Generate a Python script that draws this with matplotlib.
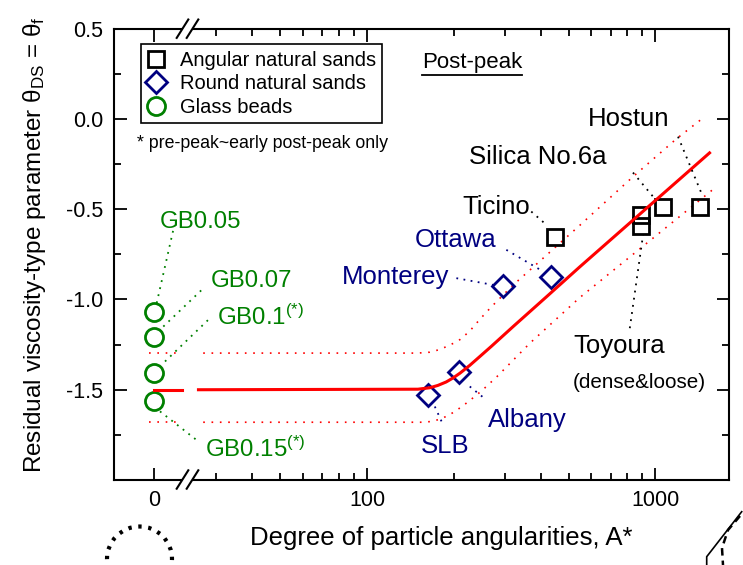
import matplotlib
matplotlib.use('Agg')
import matplotlib.pyplot as plt
from matplotlib.lines import Line2D
from matplotlib.patches import Ellipse, Polygon

plt.rcParams['font.family'] = ['Liberation Sans', 'DejaVu Sans']
plt.rcParams['mathtext.fontset'] = 'custom'
plt.rcParams['mathtext.rm'] = 'Liberation Sans'
plt.rcParams['mathtext.it'] = 'Liberation Sans:italic'
plt.rcParams['axes.unicode_minus'] = False

# ---- data ----
# glass beads sit at A* = 0 (left, linear part of the broken axis)
gb_x = [0, 0, 0, 0]
gb_y = [-1.07, -1.21, -1.41, -1.565]

round_names = ['SLB', 'Albany', 'Monterey', 'Ottawa']
round_x = [163, 208, 296, 434]
round_y = [-1.53, -1.40, -0.925, -0.875]

ang_x = [450, 894, 894, 1063, 1432]
ang_y = [-0.655, -0.53, -0.595, -0.49, -0.49]

# fitted curve and the dotted band (log part)
fit_x = [26, 150, 165, 176, 188, 199, 210, 227, 246, 270, 321, 419, 546, 1541]
fit_y = [-1.50, -1.497, -1.489, -1.476, -1.457, -1.434, -1.408, -1.365, -1.316, -1.259,
         -1.150, -0.985, -0.820, -0.188]
up_x = [27, 150, 165, 176, 188, 199, 210, 227, 246, 270, 321, 546, 836, 1183, 1483]
up_y = [-1.297, -1.297, -1.292, -1.280, -1.262, -1.243, -1.222, -1.175, -1.11, -1.04,
        -0.92, -0.59, -0.32, -0.11, 0.013]
low_x = [27, 155, 167, 180, 193, 206, 221, 236, 252, 281, 367, 546, 882, 1628]
low_y = [-1.68, -1.68, -1.676, -1.662, -1.639, -1.610, -1.574, -1.538, -1.50, -1.43,
         -1.242, -0.99, -0.72, -0.375]
# same levels continued in the A* = 0 segment
flat_fit, flat_up, flat_low = -1.5, -1.297, -1.68

GREEN = '#008000'
NAVY = '#000080'
RED = '#ff0000'

W, H = 743, 565


def fx(px):
    return px / W


def fy(py):
    return 1 - py / H


fig = plt.figure(figsize=(W / 100, H / 100), dpi=100)
bot, top = fy(480), fy(28.7)
axL = fig.add_axes([fx(114), bot, fx(190) - fx(114), top - bot])
axR = fig.add_axes([fx(190), bot, fx(729) - fx(190), top - bot])

for ax in (axL, axR):
    ax.patch.set_visible(False)
    ax.set_ylim(-2.0, 0.5)
    for s in ax.spines.values():
        s.set_linewidth(1.5)
    ax.set_yticks([-1.5, -1.0, -0.5, 0.0, 0.5])
    ax.set_yticks([-1.75, -1.25, -0.75, -0.25, 0.25], minor=True)
    ax.tick_params(which='both', direction='in', width=1.3, labelsize=15.5,
                   top=True, bottom=True)
    ax.tick_params(which='major', length=9)
    ax.tick_params(which='minor', length=5)

axL.set_xlim(-1, 0.9)
axL.spines['right'].set_visible(False)
axL.set_xticks([0], ['0'])
axL.tick_params(axis='y', which='both', left=True, right=False, pad=8)
axL.tick_params(axis='x', pad=7.5)
axL.set_yticklabels(['-1.5', '-1.0', '-0.5', '0.0', '0.5'])

axR.set_xscale('log')
axR.set_xlim(24.3, 1800)
axR.spines['left'].set_visible(False)
axR.set_xticks([100, 1000], ['100', '1000'])
axR.set_xticks([30, 40, 50, 60, 70, 80, 90, 200, 300, 400, 500, 600, 700, 800, 900],
               minor=True)
axR.xaxis.set_minor_formatter(plt.NullFormatter())
axR.tick_params(axis='y', which='both', left=False, right=True, labelleft=False)
axR.tick_params(axis='x', pad=7.5)

# left segment
axL.plot([-0.12, 0.65], [flat_up, flat_up], color=RED, lw=1.2, ls=(0, (1, 4)))
axL.plot([-0.12, 0.65], [flat_low, flat_low], color=RED, lw=1.2, ls=(0, (1, 4)))
axL.plot(gb_x, gb_y, ls='none', marker='o', ms=13, mfc='none', mec=GREEN, mew=2)
axL.plot([0, 0.7], [flat_fit, flat_fit], color=RED, lw=2.2)

# right segment
axR.plot(up_x, up_y, color=RED, lw=1.2, ls=(0, (1, 4)))
axR.plot(low_x, low_y, color=RED, lw=1.2, ls=(0, (1, 4)))
axR.plot(round_x, round_y, ls='none', marker='D', ms=11.5, mfc='none', mec=NAVY, mew=2)
axR.plot(ang_x, ang_y, ls='none', marker='s', ms=11.3, mfc='none', mec='black', mew=2)
axR.plot(fit_x, fit_y, color=RED, lw=2.2)

# ---- labels and leader lines ----
lead = dict(lw=1.3, ls=(0, (1, 3)), clip_on=False)

# glass beads (left axes coordinates)
gb_labels = [('GB0.05', 0.15, -0.57), ('GB0.07', 1.4175, -0.897),
             ('GB0.1$^{\\mathregular{(*)}}$', 1.5675, -1.10),
             ('GB0.15$^{\\mathregular{(*)}}$', 1.275, -1.832)]
for txt, tx, ty in gb_labels:
    axL.text(tx, ty, txt, color=GREEN, fontsize=17.3, ha='left', va='center',
             clip_on=False)
axL.plot([0.0675, 0.4825], [-1.02, -0.614], color=GREEN, **lead)
axL.plot([0.2325, 1.1925], [-1.15, -0.947], color=GREEN, **lead)
axL.plot([0.275, 1.3575], [-1.3435, -1.1125], color=GREEN, **lead)
axL.plot([0.15, 1.1075], [-1.62, -1.786], color=GREEN, **lead)

# round sands
for txt, tx, ty in [('SLB', 186, -1.814), ('Albany', 359, -1.666),
                    ('Monterey', 126, -0.875), ('Ottawa', 203, -0.670)]:
    axR.text(tx, ty, txt, color=NAVY, fontsize=18.5, ha='center', va='center')
axR.plot([171.7, 183.4], [-1.593, -1.694], color=NAVY, **lead)
axR.plot([227, 259], [-1.482, -1.556], color=NAVY, **lead)
axR.plot([204, 273], [-0.882, -0.919], color=NAVY, **lead)
axR.plot([304, 408], [-0.725, -0.845], color=NAVY, **lead)

# angular sands
for txt, tx, ty in [('Hostun', 808, 0.0), ('Silica No.6a', 391, -0.21),
                    ('Ticino', 281, -0.487), ('Toyoura', 750, -1.26)]:
    axR.text(tx, ty, txt, color='black', fontsize=18.5, ha='center', va='center')
axR.text(877, -1.4575, '(dense&loose)', fontsize=14.9, ha='center', va='center')
axR.plot([371, 419], [-0.513, -0.587], color='black', **lead)
axR.plot([836, 981], [-0.297, -0.43], color='black', **lead)
axR.plot([1198, 1444], [-0.098, -0.411], color='black', **lead)
axR.plot([815, 906], [-1.159, -0.642], color='black', **lead)

axR.text(231, 0.31, 'Post-peak', fontsize=16, ha='center', va='center')
axR.plot([154.4, 344.6], [0.2437, 0.2437], color='black', lw=1.3)
fig.text(fx(136.7), fy(143.3), '* pre-peak~early post-peak only', fontsize=12.8,
         ha='left', va='center')

# legend
handles = [
    Line2D([], [], ls='none', marker='s', ms=11.3, mfc='none', mec='black', mew=2),
    Line2D([], [], ls='none', marker='D', ms=11.5, mfc='none', mec=NAVY, mew=2),
    Line2D([], [], ls='none', marker='o', ms=13, mfc='none', mec=GREEN, mew=2),
]
leg = fig.legend(handles, ['Angular natural sands', 'Round natural sands', 'Glass beads'],
                 loc='upper left', bbox_to_anchor=(fx(140.7), fy(44.3)),
                 frameon=True, fancybox=False, edgecolor='black', framealpha=1,
                 fontsize=14.5, handlelength=0.9, handletextpad=0.7,
                 borderpad=0.33, labelspacing=0.22, borderaxespad=0)
leg.get_frame().set_linewidth(1.2)

# axis labels
fig.text(fx(441), fy(538), 'Degree of particle angularities, A*', fontsize=18.5,
         ha='center', va='center')
fig.text(fx(35), fy(245),
         'Residual viscosity-type parameter θ$_{\\mathregular{DS}}$ = θ$_{\\mathregular{f}}$',
         fontsize=17.5, rotation=90, ha='center', va='center')

# axis break marks
for yc in (28.7, 479.5):
    x1, x2, dy, dx = 182.5, 192.5, 9.2, 5.8
    poly = Polygon([(fx(x1 - dx), fy(yc + dy)), (fx(x1 + dx), fy(yc - dy)),
                    (fx(x2 + dx), fy(yc - dy)), (fx(x2 - dx), fy(yc + dy))],
                   closed=True, transform=fig.transFigure, fc='white', ec='none',
                   zorder=5)
    fig.add_artist(poly)
    for xc in (x1, x2):
        fig.add_artist(Line2D([fx(xc - dx), fx(xc + dx)], [fy(yc + dy), fy(yc - dy)],
                              transform=fig.transFigure, color='black', lw=1.5,
                              zorder=6))

# fragments of neighbouring drawings at the bottom edge
fig.add_artist(Ellipse((fx(139.5), fy(559)), 65 / W, 65 / H, transform=fig.transFigure,
                       fill=False, ec='black', lw=3, ls=(0, (0.8, 1.6))))
fig.add_artist(Line2D([fx(741.7), fx(706.7), fx(706.7)], [fy(511.7), fy(556.7), fy(565)],
                      transform=fig.transFigure, color='black', lw=1.2))
fig.add_artist(Line2D([fx(740), fx(728), fx(722), fx(723)],
                      [fy(516), fy(530), fy(548), fy(565)],
                      transform=fig.transFigure, color='black', lw=1.8, ls=(0, (3, 2))))

fig.savefig('out.png', dpi=100)
